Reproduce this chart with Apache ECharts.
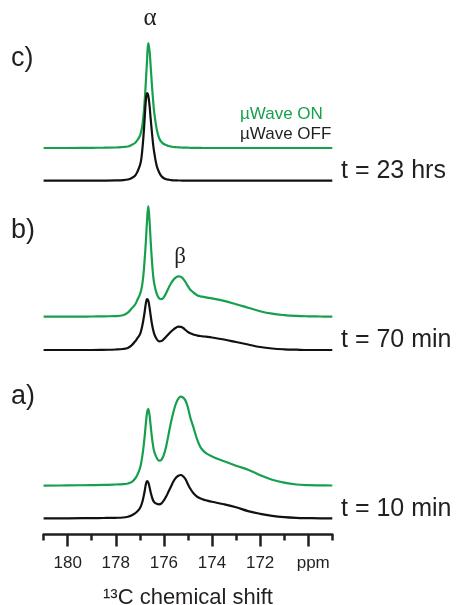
<!DOCTYPE html>
<html>
<head>
<meta charset="utf-8">
<script src="https://cdn.jsdelivr.net/npm/echarts@6/dist/echarts.min.js"></script>
<style>
html,body{margin:0;padding:0;background:#fff;}
#chart{width:458px;height:605px;}
</style>
</head>
<body>
<div id="chart"></div>
<script>
// ---------- DATA ----------
// chemical shift sample positions, ppm
const ppm = [181.0,180.0,179.0,178.5,178.0,177.7,177.5,177.35,177.2,177.1,
             177.0,176.95,176.9,176.85,176.8,176.75,176.7,176.65,176.6,176.55,
             176.5,176.45,176.4,176.3,176.2,176.1,176.0,175.9,175.8,175.7,
             175.6,175.5,175.4,175.3,175.2,175.1,175.0,174.9,174.8,174.7,
             174.6,174.5,174.4,174.25,174.0,173.5,173.0,172.5,172.0,171.5,
             171.0,170.5,170.0,169.5,169.0];
// intensities (arbitrary units) of each spectrum
const c_on  = [0,0,0.2,0.3,0.5,1,1.5,3,5,8,
               12,16,22,32,47,66,88,105,98,82,
               64,48,35,19,10,6,4,3,2,1.5,
               1,0.8,0.6,0.5,0.4,0.3,0.3,0.2,0.2,0.1,
               0.1,0.1,0,0,0,0,0,0,0,0,
               0,0,0,0,0];
const c_off = [0,0,0,0.1,0.3,0.6,1.2,2.5,5,9,
               15,20,30,44,62,80,87.5,85,76,62,
               49,37,28,15,8.5,4.5,2.5,1.5,1,0.6,
               0.4,0.3,0.2,0.2,0.1,0.1,0,0,0,0,
               0,0,0,0,0,0,0,0,0,0,
               0,0,0,0,0];
const b_on  = [0,0,0.2,0.4,0.6,1.5,4,8,12,17,
               22,26,32,42,57,75,96,110.5,97,76,
               57,42,33,23,18.5,17.5,19.5,24,29,33.5,
               37,39.3,40.3,40,38,34.5,30.5,27,24.8,22.8,
               21.3,20.5,20,19.3,18.3,15.8,12.5,9,5.5,3,
               1.6,0.8,0.4,0.2,0];
const b_off = [0,0,0,0.2,0.5,1,2,4.5,8.5,11.8,
               15.5,19,24,30.5,38,46.5,51,49.5,43,34.5,
               26.5,20.5,16,11,8.7,9,11,13.5,16,18.5,
               20.5,22.3,23.3,23.2,22,20,18,16.8,15.8,15,
               14.4,14,13.7,13.3,12.5,10.5,8,5.5,3,1.5,
               0.7,0.3,0,0,0];
const a_on  = [0,0.3,0.6,0.8,1.2,1.5,2.2,3.5,7,11,
               17,22,29,38,49,62,73,76.5,71,60,
               49,40,34,28,25,26,31,40,52,64,
               74,82,87,89,88,85,78,68,60.5,52.5,
               45,39.5,36,32.5,29.3,24.5,20,16,10.5,6,
               3,1.2,0.5,0.3,0.2];
const a_off = [0,0,0.2,0.3,0.5,0.8,1.5,2.7,5,7,
               10,12.5,16,21,27,34,37.3,36,31.5,26,
               21.5,18,16,14.5,14,15,18,22,27,32,
               37,40.5,42.5,43.3,42,39,34,29.5,26,23.3,
               21.3,20,19,18,16.5,14,11,7.2,4.5,2.5,
               1.2,0.5,0.2,0,0];
// axis ticks / labels
const majorTicks = [170,172,174,176,178,180];
const minorTicks = [169,171,173,175,177,179,181];
const tickLabels = [180,178,176,174,172,170];

// ---------- LAYOUT / STYLE ----------
const GREEN = '#16a04e';
const BLACK = '#111111';
const TXT = '#231f20';
const SANS = '"Liberation Sans", Arial, Helvetica, sans-serif';
const SERIF = '"Liberation Serif", "Times New Roman", serif';
const Y_MAX = 534.5;            // y axis span (grid height)
const traces = [
  {name:'c on',  vals:c_on,  color:GREEN, offset:386.5},
  {name:'c off', vals:c_off, color:BLACK, offset:353.8},
  {name:'b on',  vals:b_on,  color:GREEN, offset:217.8},
  {name:'b off', vals:b_off, color:BLACK, offset:184.5},
  {name:'a on',  vals:a_on,  color:GREEN, offset:48.8},
  {name:'a off', vals:a_off, color:BLACK, offset:16.2}
];

const series = traces.map(t => ({
  name: t.name,
  type: 'line',
  xAxisIndex: 0,
  yAxisIndex: 0,
  data: ppm.map((p, i) => [p, t.offset + t.vals[i]]),
  showSymbol: false,
  smooth: 0.4,
  lineStyle: {color: t.color, width: 2.2},
  itemStyle: {color: t.color},
  silent: true,
  z: t.color === GREEN ? 3 : 4
}));

function txt(text, x, y, size, color, family, align) {
  return {type:'text', x:x, y:y, silent:true,
    style:{text:text, font: size + 'px ' + family, fill:color,
           align: align || 'left', verticalAlign:'middle'}};
}

const chart = echarts.init(document.getElementById('chart'), null, {renderer:'canvas'});
chart.setOption({
  animation: false,
  backgroundColor: '#fff',
  grid: {left: 43.6, right: 125.7, top: 0, bottom: 605 - Y_MAX,
         containLabel: false, outerBoundsMode: 'none'},
  xAxis: [{
    type: 'value', min: 169, max: 181, inverse: true, position: 'bottom',
    axisLine: {show: true, lineStyle: {color: TXT, width: 2.5}},
    axisTick: {show: true, customValues: majorTicks, length: 12, inside: false,
               lineStyle: {color: TXT, width: 2.5}},
    axisLabel: {show: true, customValues: tickLabels, margin: 20.5, fontSize: 17,
                fontFamily: SANS, color: TXT,
                formatter: v => v === 170 ? '{p|ppm}' : String(v),
                rich: {p: {padding: [0,0,0,10], fontSize: 17, fontFamily: SANS, color: TXT}}},
    splitLine: {show: false},
    name: '\u00b9\u00b3C chemical shift', nameLocation: 'middle', nameGap: 52,
    nameTextStyle: {fontSize: 22, fontFamily: SANS, color: TXT}
  }, {
    type: 'value', min: 169, max: 181, inverse: true, position: 'bottom',
    axisLine: {show: false},
    axisTick: {show: true, customValues: minorTicks, length: 6,
               lineStyle: {color: TXT, width: 2.5}},
    axisLabel: {show: false},
    splitLine: {show: false}
  }],
  yAxis: {type: 'value', min: 0, max: Y_MAX, show: false},
  series: series,
  graphic: [
    txt('c)', 11, 59, 27, TXT, SANS),
    txt('b)', 11, 231, 27, TXT, SANS),
    txt('a)', 11, 397, 27, TXT, SANS),
    txt('\u03b1', 150, 18.8, 25, TXT, SERIF, 'center'),
    txt('\u03b2', 180, 257, 23, TXT, SERIF, 'center'),
    txt('\u00b5Wave ON', 240, 114.5, 17, GREEN, SANS),
    txt('\u00b5Wave OFF', 240, 134.3, 17, TXT, SANS),
    txt('t = 23 hrs', 341, 171.5, 25, TXT, SANS),
    txt('t = 70 min', 341, 340, 25, TXT, SANS),
    txt('t = 10 min', 341, 509.5, 25, TXT, SANS)
  ]
});
</script>
</body>
</html>
